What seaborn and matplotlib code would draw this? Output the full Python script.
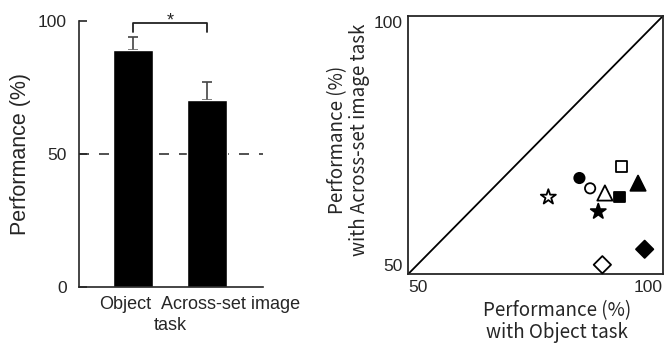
import pandas as pd
import seaborn as sns
import matplotlib.pyplot as plt
from matplotlib.transforms import ScaledTranslation

# bar panel data
tasks = ["Object", "Across-set image"]
perf_mean = [89.1, 70.3]
perf_err = [4.9, 6.8]
chance = 50

# scatter panel data (one point per subject)
obj_perf = [91.9, 83.6, 85.7, 88.6, 91.5, 95.1, 77.5, 87.3, 96.4, 88.1]
across_perf = [70.8, 68.6, 66.6, 65.7, 64.9, 67.6, 64.9, 62.1, 54.8, 51.8]
shapes = ["square", "circle", "circle", "triangle", "square", "triangle",
          "star", "star", "diamond", "diamond"]
fills = ["open", "filled", "open", "open", "filled", "filled",
         "open", "filled", "filled", "open"]

sns.set_style("ticks")
plt.rcParams['font.family'] = ['Liberation Sans', 'DejaVu Sans']
jp_font = ['Noto Sans CJK JP', 'DejaVu Sans']

fig = plt.figure(figsize=(6.67, 3.46), dpi=100)
ax1 = fig.add_axes([0.118, 0.17, 0.276, 0.769])
ax2 = fig.add_axes([0.612, 0.208, 0.382, 0.746])

# %% left: bar chart
df_bar = pd.DataFrame({"task": tasks, "perf": perf_mean, "err": perf_err})
ax1.axhline(chance, color='#333333', lw=1.2, ls=(0, (6, 6)), zorder=0)
sns.barplot(data=df_bar, x="task", y="perf", color='black', width=0.537,
            errorbar=None, ax=ax1, zorder=2, saturation=1)
ax1.errorbar(x=range(len(tasks)), y=df_bar.perf, yerr=[[0] * len(tasks), df_bar.err],
             fmt='none', ecolor='#444444', elinewidth=1.2, capsize=3.5, capthick=1.2, zorder=1)
ax1.set_ylim(0, 100)
ax1.set_xlim(-0.723, 1.746)
ax1.set_yticks([0, 50, 100])
ax1.tick_params(axis='y', direction='in', length=6, width=1.2, pad=8.5, labelsize=12.5)
ax1.tick_params(axis='x', length=0, pad=6, labelsize=13)
# labels sit slightly apart from the bar centres in the original
for lab, dx in zip(ax1.get_xticklabels(), [-7, 23]):
    lab.set_transform(lab.get_transform() + ScaledTranslation(dx / 100, 0, fig.dpi_scale_trans))
ax1.set_ylabel("Performance (%)", fontsize=15.5, labelpad=5)
ax1.set_xlabel("task", fontsize=13, labelpad=3)
for sp in ["top", "right"]:
    ax1.spines[sp].set_visible(False)
for sp in ["left", "bottom"]:
    ax1.spines[sp].set_linewidth(1.2)

# significance bracket
ax1.plot([0, 0, 1, 1], [95.9, 99.2, 99.2, 95.9], color='#222222', lw=1.3, clip_on=False)
ax1.text(0.5, 98.3, "*", ha='center', va='baseline', fontsize=13)

# %% right: scatter Object vs Across-set
df_sc = pd.DataFrame({"obj": obj_perf, "across": across_perf,
                      "shape": shapes, "fill": fills})
ax2.axline((50, 50), slope=1, color='black', lw=1.3, zorder=1)
sns.scatterplot(data=df_sc, x="obj", y="across", hue="fill", style="shape", size="shape",
                palette={"filled": "black", "open": "white"},
                markers={"square": "s", "circle": "o", "triangle": "^",
                         "star": "*", "diamond": "D"},
                sizes={"square": 60, "circle": 55, "triangle": 120,
                       "star": 130, "diamond": 78},
                edgecolor='black', linewidth=1.3, legend=False, ax=ax2, zorder=3,
                clip_on=False)
ax2.set_xlim(50, 100)
ax2.set_ylim(50, 100)
ax2.set_xticks([50, 100])
ax2.set_yticks([50, 100])
ax2.tick_params(length=0, labelsize=12.5, pad=4)
for lab, ha in zip(ax2.get_xticklabels(), ['left', 'right']):
    lab.set_ha(ha)
for lab, va in zip(ax2.get_yticklabels(), ['bottom', 'top']):
    lab.set_va(va)
for sp in ax2.spines.values():
    sp.set_linewidth(1.3)
ax2.set_xlabel("Performance (%)\nwith Object task", fontsize=13.5, family=jp_font,
               linespacing=1.05)
ax2.set_ylabel("Performance (%)\nwith Across-set image task", fontsize=13.5, family=jp_font,
               linespacing=1.05)
ax2.xaxis.set_label_coords(0.584, -0.1)
ax2.xaxis.label.set_va('top')
ax2.yaxis.set_label_coords(-0.15, 0.52)

fig.savefig("out.png", dpi=100)
